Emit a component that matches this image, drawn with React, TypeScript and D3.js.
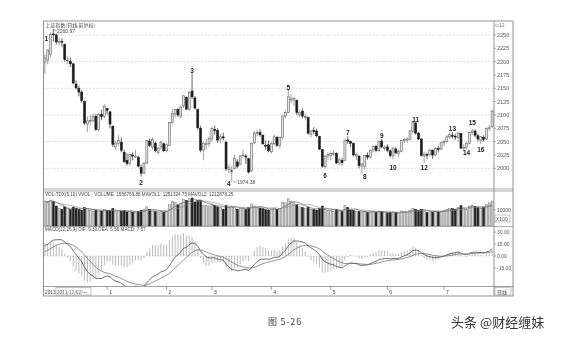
import React from "react";
import * as d3 from "d3";

// 2013/12/02 .. 2014/07/24 daily candles (Shanghai Composite)
const opens = [2199,2203,2214,2252,2250,2237,2238,2232,2202,2200,2196,2158,2150,2143,2125,2083,2089,2089,2097,2073,2101,2097,
2112,2106,2079,2040,2047,2049,2030,2015,2009,2025,2021,2020,2002,1990,2010,2051,2040,2047,2030,2040,2046,
2033,2043,2086,2102,2110,2098,2117,2133,2110,2145,2132,2110,2075,2034,2045,2046,
2055,2073,2071,2055,2059,2049,1998,1993,2000,2012,2008,2024,2023,2018,1995,2048,2065,2067,2062,2043,2044,
2031,2046,2058,2043,2058,2098,2105,2128,2128,2127,2100,2107,2096,2095,2064,2071,2070,2060,2035,2003,2023,
2024,2027,2028,2010,2015,2015,2053,2050,2047,2023,2023,2004,2004,2024,2021,2034,2041,2033,2051,2038,
2040,2033,2023,2036,2028,2032,2052,2053,2054,2069,2085,2066,2055,2023,2026,2026,2034,2025,2037,2036,
2048,2050,2059,2062,2060,2058,2065,2037,2039,2047,2067,2070,2061,2052,2058,2055,2075,2078];
const highs = [2214,2223,2255,2261,2253,2245,2244,2234,2210,2208,2197,2165,2155,2146,2127,2097,2100,2103,2102,2103,2110,2120,
2113,2106,2080,2052,2062,2058,2035,2028,2027,2030,2035,2024,2007,2012,2052,2056,2058,2050,2040,2052,2048,
2047,2087,2110,2111,2113,2117,2137,2134,2145,2178,2135,2112,2080,2050,2055,2060,
2078,2080,2075,2065,2067,2052,2008,2004,2025,2017,2025,2035,2026,2020,2048,2070,2073,2073,2064,2052,2052,
2050,2063,2061,2060,2099,2108,2147,2139,2134,2129,2110,2112,2103,2097,2072,2077,2074,2060,2036,2024,2030,
2032,2035,2030,2020,2020,2054,2060,2052,2048,2030,2024,2010,2025,2030,2035,2043,2044,2052,2055,2043,
2045,2034,2039,2040,2035,2053,2057,2058,2072,2089,2087,2068,2056,2031,2030,2036,2035,2040,2042,2050,
2054,2062,2066,2068,2065,2068,2066,2045,2050,2068,2074,2073,2065,2060,2062,2077,2082,2110];
const lows = [2177,2195,2208,2238,2232,2230,2228,2200,2195,2190,2158,2148,2135,2123,2081,2068,2080,2086,2070,2069,2090,2094,
2101,2075,2040,2034,2042,2030,2010,2005,2005,2015,2020,2002,1985,1990,2008,2040,2035,2030,2025,2035,2030,
2030,2043,2083,2095,2096,2093,2113,2110,2108,2130,2110,2072,2030,2015,2035,2040,
2050,2063,2048,2048,2052,1995,1990,1974,1998,2000,2005,2020,2008,1990,1993,2045,2060,2059,2044,2035,2030,
2028,2043,2040,2037,2055,2094,2104,2122,2117,2100,2096,2094,2090,2063,2058,2064,2058,2034,2001,2000,2016,
2015,2023,2008,2005,2005,2014,2046,2040,2022,2015,2000,1991,1998,2016,2018,2030,2030,2031,2038,2033,
2030,2020,2017,2026,2022,2030,2047,2048,2052,2066,2063,2053,2022,2010,2018,2022,2018,2022,2030,2034,
2042,2048,2055,2056,2053,2050,2036,2032,2035,2045,2062,2058,2050,2046,2050,2053,2070,2075];
const closes = [2207,2222,2251,2251,2237,2238,2237,2204,2203,2196,2160,2151,2143,2127,2085,2089,2090,2098,2073,2101,2097,2116,
2109,2083,2045,2047,2052,2034,2013,2009,2026,2023,2023,2004,1991,2009,2052,2043,2054,2033,2038,2049,2033,
2044,2086,2103,2110,2100,2115,2136,2111,2142,2134,2113,2076,2034,2047,2046,2056,
2075,2071,2053,2059,2057,1999,2001,1997,2019,2004,2023,2025,2021,1993,2047,2066,2067,2063,2046,2042,2033,
2047,2059,2043,2058,2098,2105,2134,2130,2131,2105,2105,2098,2097,2066,2070,2069,2061,2036,2004,2023,2026,
2028,2028,2010,2016,2011,2053,2051,2047,2025,2026,2005,2008,2024,2021,2034,2041,2034,2050,2040,2039,
2034,2024,2038,2029,2032,2052,2054,2055,2070,2087,2066,2055,2024,2026,2025,2034,2025,2037,2036,2048,
2050,2059,2063,2060,2059,2066,2038,2039,2047,2067,2070,2062,2055,2059,2054,2075,2076,2107];
// volume in units of 100 lots
const volumes = [15500,14800,16200,15200,12500,11000,10500,12000,10800,10200,11800,11000,10400,10000,11500,10800,9600,9200,9800,9000,9400,10200,
9800,9600,11000,9200,9000,9300,9600,8800,9200,8600,8400,9000,9800,10500,12000,10200,9400,9000,8800,9200,8600,
9000,13500,15500,14800,13200,14000,16500,16000,17000,17500,15000,15800,16000,13000,12800,12500,
13500,12800,12000,11500,10500,13000,11800,12500,11500,10500,10800,11000,10200,11500,13800,12500,11800,11200,10800,10200,10000,
10500,11200,10400,10800,15000,14500,17000,15500,14500,13500,12000,11500,10800,11800,10500,10200,10000,10800,12500,10200,9800,
9600,9200,10500,9400,9000,12800,11500,10000,9800,9200,9000,8800,9000,8500,8800,9200,8600,9400,9000,8400,
8200,8400,8800,8300,8000,9400,9000,8800,9600,11000,10500,9800,10200,9600,8600,8800,8700,9000,8800,9200,
9800,10500,11000,10800,10200,11500,12800,11200,10500,12500,13000,12200,11500,11000,11800,13500,14500,15568];
// closes before the visible range (Oct-Nov 2013), only used to seed the MACD averages
const warmupCloses = [2211,2229,2238,2218,2193,2190,2184,2183,2164,2133,2133,2128,2160,2141,
2149,2149,2157,2139,2129,2106,2109,2127,2087,2100,2135,2197,2193,2206,2201,2196,2188,2183,2223,2220,2220];

const monthLabels = ["1","2","3","4","5","6","7"];
const monthStarts = [22,43,59,80,101,121,141];
const priceTicks = [2250,2225,2200,2175,2150,2125,2100,2075,2050,2025,2000];
const gridTicks = [2250,2200,2150,2100,2050,2000];
const macdTicks = [30,15,0,-15];
const pivotText = ["1","2","3","4","5","6","7","8","9","10","11","12","13","14","15","16"];
const pivotIdx = [0,34,52,65,86,99,107,113,119,123,131,134,144,149,151,154];
const pivotPrice = [2243,1974,2184,1972,2152,1986,2068,1984,2062,2002,2092,2002,2074,2029,2085,2036];

const ema = (arr: number[], n: number) => {
  const out: number[] = [];
  arr.forEach((v, i) => out.push(i === 0 ? v : (2 * v + (n - 1) * out[i - 1]) / (n + 1)));
  return out;
};

export default function App() {
  const W = 566, H = 341;
  const L = 43.5, R = 494, RO = 513;
  const n = closes.length;
  const idx = d3.range(n);
  const x = d3.scaleBand<number>().domain(idx).range([L, R - 0.5]).paddingInner(0.3).paddingOuter(0.15);
  const bw = x.bandwidth();
  const cx = (i: number) => (x(i) as number) + bw / 2;
  const yP = d3.scaleLinear().domain([2000, 2250]).range([168.3, 35]);
  const yV = d3.scaleLinear().domain([0, 10000]).range([226, 210]);
  const yM = d3.scaleLinear().domain([0, 15]).range([256, 244]);

  const all = warmupCloses.concat(closes);
  const e12 = ema(all, 12), e26 = ema(all, 26);
  const difAll = all.map((_, i) => e12[i] - e26[i]);
  const deaAll = ema(difAll, 9);
  const w = warmupCloses.length;
  const dif = difAll.slice(w), dea = deaAll.slice(w);
  const hist = dif.map((d, i) => 2 * (d - dea[i]));

  const ma = (k: number) => volumes.map((_, i) => d3.mean(volumes.slice(Math.max(0, i - k + 1), i + 1)) as number);
  const mv5 = ma(5), mv10 = ma(10);
  const vLine = d3.line<number>().x((_, i) => cx(i)).y((d) => yV(d));
  const mLine = d3.line<number>().x((_, i) => cx(i)).y((d) => yM(d));

  const font = "'Liberation Sans', Arial, sans-serif";
  const cjk = "'Noto Sans CJK SC', sans-serif";
  const grey = "#555";

  return (
    <svg width={W} height={H} style={{ position: "absolute", left: 0, top: 0, background: "#fff" }}>
      <defs>
        <clipPath id="cp"><rect x={L} y={22} width={R - L} height={167} /></clipPath>
        <clipPath id="cv"><rect x={L} y={192} width={R - L} height={34.5} /></clipPath>
        <clipPath id="cm"><rect x={L} y={227} width={R - L} height={59} /></clipPath>
        <filter id="soft" x="0" y="0" width="100%" height="100%">
          <feGaussianBlur stdDeviation={0.25} />
        </filter>
      </defs>
      <g filter="url(#soft)">
      {/* frames */}
      <rect x={L} y={21} width={RO - L} height={275} fill="none" stroke="#777" strokeWidth={0.8} />
      <line x1={R} x2={R} y1={21} y2={296} stroke="#777" strokeWidth={0.8} />
      <line x1={L} x2={RO} y1={189} y2={189} stroke="#888" strokeWidth={0.7} />
      <line x1={L} x2={RO} y1={191} y2={191} stroke="#888" strokeWidth={0.7} />
      <line x1={L} x2={RO} y1={226.5} y2={226.5} stroke="#888" strokeWidth={0.7} />
      <line x1={L} x2={RO} y1={286.5} y2={286.5} stroke="#777" strokeWidth={0.7} />

      {/* price grid */}
      {gridTicks.map((t) => (
        <line key={t} x1={L} x2={R} y1={yP(t)} y2={yP(t)} stroke="#c4c4c4" strokeWidth={0.6} strokeDasharray="2,1.5" />
      ))}
      {priceTicks.map((t) => (
        <g key={t}>
          <line x1={R} x2={R + 2} y1={yP(t)} y2={yP(t)} stroke="#777" strokeWidth={0.6} />
          <text x={R + 3} y={yP(t) + 2} fontSize={5.5} fill={grey} fontFamily={font}>{t}</text>
        </g>
      ))}
      <text x={R + 1} y={27} fontSize={5} fill="#777" fontFamily={font}>⊙12</text>

      {/* title */}
      <text x={45.5} y={26.5} fontSize={5} fill="#444" fontFamily={cjk}>上证指数(日线,前复权)</text>

      {/* candles */}
      <g clipPath="url(#cp)">
        {idx.map((i) => {
          const up = closes[i] >= opens[i];
          const top = yP(Math.max(opens[i], closes[i]));
          const bot = yP(Math.min(opens[i], closes[i]));
          return (
            <g key={i}>
              <line x1={cx(i)} x2={cx(i)} y1={yP(highs[i])} y2={yP(lows[i])} stroke={up ? "#777" : "#222"} strokeWidth={0.7} />
              <rect x={x(i)} y={top} width={bw} height={Math.max(0.8, bot - top)}
                fill={up ? "#e6e6e6" : "#1e1e1e"} stroke={up ? "#666" : "#1e1e1e"} strokeWidth={0.6} />
            </g>
          );
        })}
      </g>

      {/* high / low annotations */}
      <line x1={cx(3)} x2={cx(3) + 3} y1={yP(2260.97)} y2={yP(2260.97) + 2} stroke="#555" strokeWidth={0.5} />
      <text x={cx(3) + 3.5} y={yP(2260.97) + 4.2} fontSize={5} fill="#444" fontFamily={font}>2260.97</text>
      <line x1={cx(66) + 1.5} x2={cx(66) + 5} y1={yP(1974.38)} y2={yP(1974.38)} stroke="#555" strokeWidth={0.5} />
      <text x={cx(66) + 5.5} y={yP(1974.38) + 2} fontSize={5} fill="#444" fontFamily={font}>1974.38</text>

      {pivotText.map((t, k) => (
        <text key={t} x={cx(pivotIdx[k]) + (k === 0 ? 1.5 : 0)} y={yP(pivotPrice[k])} textAnchor="middle" dominantBaseline="central"
          fontSize={6.5} fontWeight="bold" fill="#222" fontFamily={font}>{t}</text>
      ))}

      {/* volume */}
      <text x={45} y={196} fontSize={4.6} fill="#444" fontFamily={font}>
        VOL-TDX(5,10)  VVOL  -  VOLUME: 1556769.88  MAVOL1: 1251324.75  MAVOL2: 1212878.25
      </text>
      <g clipPath="url(#cv)">
        {idx.map((i) => {
          const up = closes[i] >= opens[i];
          return (
            <rect key={i} x={x(i)} y={yV(volumes[i])} width={bw} height={yV(0) - yV(volumes[i])}
              fill={up ? "#d8d8d8" : "#222"} stroke={up ? "#777" : "#222"} strokeWidth={0.5} />
          );
        })}
        <path d={vLine(mv5) as string} fill="none" stroke="#555" strokeWidth={0.6} />
        <path d={vLine(mv10) as string} fill="none" stroke="#888" strokeWidth={0.6} />
      </g>
      <line x1={R} x2={R + 2} y1={yV(10000)} y2={yV(10000)} stroke="#777" strokeWidth={0.6} />
      <text x={R + 3} y={yV(10000) + 2} fontSize={5} fill={grey} fontFamily={font}>10000</text>
      <rect x={R + 1} y={215} width={15} height={7} fill="none" stroke="#888" strokeWidth={0.5} />
      <text x={R + 2} y={220.5} fontSize={5} fill={grey} fontFamily={font}>X100</text>

      {/* MACD */}
      <text x={45} y={231} fontSize={4.6} fill="#444" fontFamily={font}>
        MACD(12,26,9) DIF: 9.39  DEA: 5.56  MACD: 7.67
      </text>
      <g clipPath="url(#cm)">
        <line x1={L} x2={R} y1={yM(0)} y2={yM(0)} stroke="#bbb" strokeWidth={0.5} strokeDasharray="2,1.5" />
        {idx.map((i) => (
          <line key={i} x1={cx(i)} x2={cx(i)} y1={yM(0)} y2={yM(hist[i])} stroke="#8a8a8a" strokeWidth={0.6} />
        ))}
        <path d={mLine(dif) as string} fill="none" stroke="#333" strokeWidth={0.7} />
        <path d={mLine(dea) as string} fill="none" stroke="#666" strokeWidth={0.7} />
      </g>
      {macdTicks.map((t) => (
        <g key={t}>
          <line x1={R} x2={R + 2} y1={yM(t)} y2={yM(t)} stroke="#777" strokeWidth={0.6} />
          <text x={R + 3} y={yM(t) + 2} fontSize={5} fill={grey} fontFamily={font}>{t.toFixed(2)}</text>
        </g>
      ))}

      {/* date row */}
      <text x={45} y={293.5} fontSize={4.8} fill="#444" fontFamily={font}>2013</text>
      <rect x={56} y={287.5} width={35} height={7.5} fill="none" stroke="#888" strokeWidth={0.5} />
      <text x={57} y={293.5} fontSize={4.6} fill="#444" fontFamily={cjk}>2013/12/02/一</text>
      {monthStarts.map((s, k) => (
        <g key={k}>
          <line x1={cx(s)} x2={cx(s)} y1={286.5} y2={290} stroke="#666" strokeWidth={0.6} />
          <text x={cx(s) + 2} y={293.5} fontSize={5} fill="#444" fontFamily={font}>{monthLabels[k]}</text>
        </g>
      ))}
      <rect x={R + 1} y={287.5} width={16} height={7.5} fill="none" stroke="#888" strokeWidth={0.5} />
      <text x={R + 3} y={293.5} fontSize={5} fill="#444" fontFamily={cjk}>日线</text>

      {/* caption & watermark */}
      <text x={268} y={325} fontSize={9} fill="#444" fontFamily={cjk} letterSpacing={0.8}>图 5-26</text>
      <text x={451} y={327} fontSize={13} fill="#333" fontFamily={cjk}>头条 @财经缠妹</text>
      </g>
    </svg>
  );
}
